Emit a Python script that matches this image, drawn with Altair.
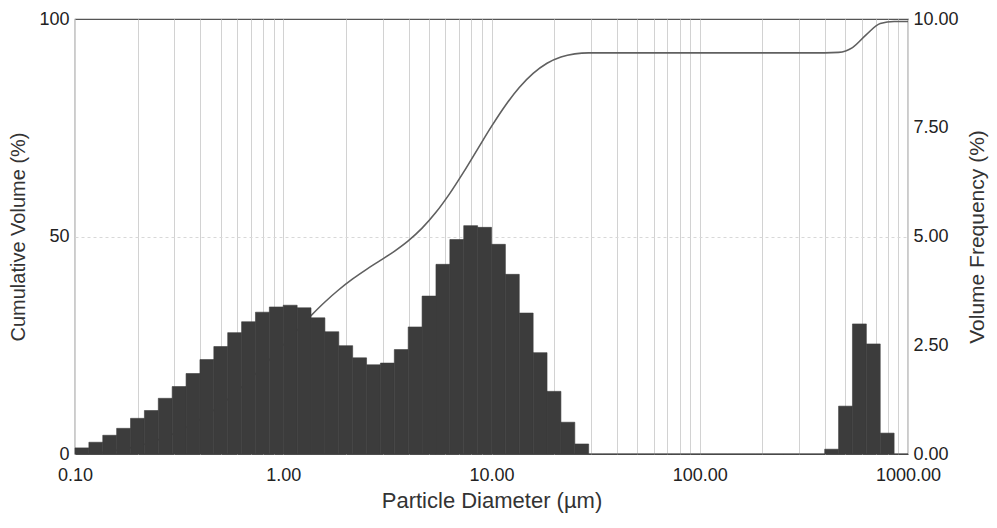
import altair as alt
import numpy as np
import pandas as pd

# 60 log-spaced size classes from 0.1 to 1000 µm (15 per decade)
edges = np.logspace(-1, 3, 61)

freq = [0.14, 0.27, 0.43, 0.59, 0.82, 1.00, 1.28, 1.55, 1.85, 2.17,
        2.47, 2.79, 3.04, 3.26, 3.38, 3.42, 3.36, 3.13, 2.81, 2.49,
        2.21, 2.05, 2.09, 2.40, 2.92, 3.63, 4.36, 4.93, 5.25, 5.21,
        4.82, 4.13, 3.24, 2.33, 1.44, 0.73, 0.23, 0, 0, 0,
        0, 0, 0, 0, 0, 0, 0, 0, 0, 0,
        0, 0, 0, 0, 0.11, 1.10, 2.99, 2.53, 0.48, 0]

x_ticks = [m * 10.0 ** d for d in range(-1, 3) for m in range(1, 10)] + [1000.0]
x_labels = [0.1, 1, 10, 100, 1000]
left_ticks = [0, 50, 100]
right_ticks = [0, 2.5, 5, 7.5, 10]

df = pd.DataFrame({"lo": edges[:-1], "hi": edges[1:], "freq": freq})

font = "Liberation Sans"
xscale = alt.Scale(type="log", domain=[0.1, 1000])

xaxis = alt.Axis(values=x_ticks, title="Particle Diameter (µm)", ticks=False,
                 labelExpr="indexof([0.1,1,10,100,1000], datum.value) >= 0 ? format(datum.value, '.2f') : ''",
                 grid=True, gridColor="#d2d2d2", gridWidth=1, domain=False,
                 labelPadding=12, titlePadding=6, labelFlush=False,
                 labelFontSize=18, titleFontSize=22)

line = alt.Chart(df).transform_window(
    cum="sum(freq)", sort=[alt.SortField("lo")]
).mark_line(color="#606060", strokeWidth=1.6, interpolate="monotone").encode(
    x=alt.X("hi:Q", scale=xscale, axis=xaxis),
    y=alt.Y("cum:Q", scale=alt.Scale(domain=[0, 100]),
            axis=alt.Axis(values=left_ticks, title="Cumulative Volume (%)", ticks=False,
                          grid=True, gridColor="#d8d8d8", gridDash=[3, 3],
                          gridOpacity={"condition": {"test": "datum.value === 50", "value": 1}, "value": 0},
                          domain=False, labelPadding=6, titlePadding=10,
                          labelFontSize=18, titleFontSize=20)),
)

bars = alt.Chart(df).mark_rect(color="#3c3c3c", stroke="#3c3c3c", strokeWidth=0.6).encode(
    x=alt.X("lo:Q", scale=xscale),
    x2="hi:Q",
    y=alt.Y("freq:Q", scale=alt.Scale(domain=[0, 10]),
            axis=alt.Axis(orient="right", values=right_ticks, format=".2f",
                          title="Volume Frequency (%)", ticks=False, grid=False,
                          domain=False, labelPadding=5, titlePadding=8,
                          titleAngle=270, titleBaseline="top",
                          labelFontSize=18, titleFontSize=21)),
    y2=alt.datum(0),
)

chart = alt.layer(line, bars).resolve_scale(y="independent").properties(
    width=833, height=435,
    autosize=alt.AutoSizeParams(type="none"),
    padding={"left": 67, "top": 11, "right": 81, "bottom": 66},
).configure_view(stroke="#555555", strokeWidth=1.2).configure_axis(
    labelFont=font, titleFont=font,
    titleFontWeight="normal", labelColor="#222222", titleColor="#333333"
)

chart.save("out.html", embed_options={"renderer": "svg", "actions": False})
